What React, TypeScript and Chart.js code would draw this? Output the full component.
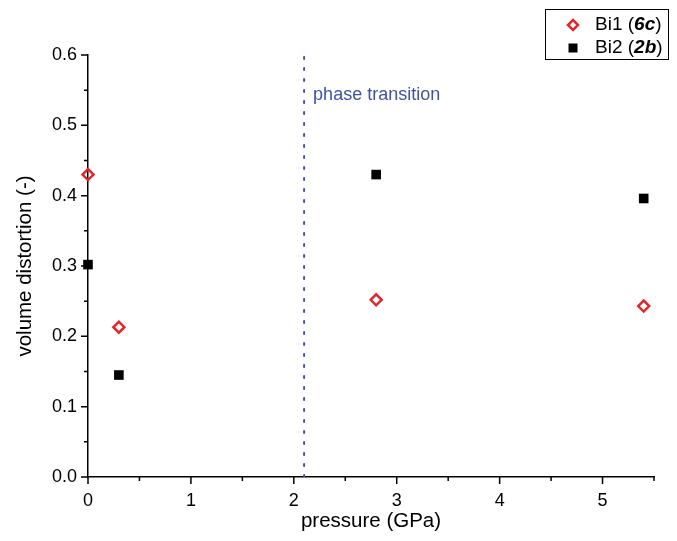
import { useEffect, useRef } from 'react';
import { Chart, registerables } from 'chart.js';

Chart.register(...registerables);

// Measured volume distortion of the two Bi sites against pressure
const pressureGPa = [0, 0.3, 2.8, 5.4];
const bi1Distortion = [0.43, 0.213, 0.252, 0.243];
const bi2Distortion = [0.302, 0.145, 0.43, 0.396];

// Axis ranges and tick positions
const xRange = [0, 5.5];
const yRange = [0, 0.6];
const xMajorTicks = [0, 1, 2, 3, 4, 5];
const xMinorTicks = [0.5, 1.5, 2.5, 3.5, 4.5, 5.5];
const yMajorTicks = [0, 0.1, 0.2, 0.3, 0.4, 0.5, 0.6];
const yMinorTicks = [0.05, 0.15, 0.25, 0.35, 0.45, 0.55];

// Pressure of the phase transition
const phaseTransitionP = 2.1;
const phaseLabel = 'phase transition';

const FONT = '"Liberation Sans", Arial, Helvetica, sans-serif';
const RED = '#e3262b';
const BLUE = '#4053a3';

const decorations = {
  id: 'decorations',
  afterDatasetsDraw(chart: any) {
    const { ctx, chartArea, scales } = chart;
    const x = scales.x;
    const y = scales.y;
    ctx.save();

    // outward tick marks on both axes
    ctx.strokeStyle = '#000';
    ctx.lineWidth = 1.5;
    ctx.beginPath();
    const xTick = (v: number, len: number) => {
      const px = x.getPixelForValue(v);
      ctx.moveTo(px, chartArea.bottom);
      ctx.lineTo(px, chartArea.bottom + len);
    };
    const yTick = (v: number, len: number) => {
      const py = y.getPixelForValue(v);
      ctx.moveTo(chartArea.left, py);
      ctx.lineTo(chartArea.left - len, py);
    };
    xMajorTicks.forEach((v) => xTick(v, 7));
    xMinorTicks.forEach((v) => xTick(v, 4));
    yMajorTicks.forEach((v) => yTick(v, 7));
    yMinorTicks.forEach((v) => yTick(v, 4));
    ctx.stroke();

    // phase transition label
    ctx.fillStyle = BLUE;
    ctx.font = `18px ${FONT}`;
    ctx.textBaseline = 'middle';
    ctx.textAlign = 'left';
    ctx.fillText(phaseLabel, x.getPixelForValue(phaseTransitionP) + 9, chartArea.top + 40);

    // legend box
    const bx = 545;
    const by = 9;
    const bw = 123;
    const bh = 50;
    ctx.strokeStyle = '#000';
    ctx.lineWidth = 1;
    ctx.strokeRect(bx + 0.5, by + 0.5, bw, bh);

    const row1 = by + 16;
    const row2 = by + 39;
    const mx = bx + 28;

    // hollow diamond
    ctx.strokeStyle = RED;
    ctx.lineWidth = 2.5;
    ctx.beginPath();
    ctx.moveTo(mx, row1 - 5);
    ctx.lineTo(mx + 5, row1);
    ctx.lineTo(mx, row1 + 5);
    ctx.lineTo(mx - 5, row1);
    ctx.closePath();
    ctx.stroke();

    // filled square
    ctx.fillStyle = '#000';
    ctx.fillRect(mx - 4.5, row2 - 4.5, 9, 9);

    const drawEntry = (name: string, site: string, ty: number) => {
      let tx = bx + 50;
      ctx.fillStyle = '#000';
      ctx.font = `19px ${FONT}`;
      const pre = `${name} (`;
      ctx.fillText(pre, tx, ty);
      tx += ctx.measureText(pre).width;
      ctx.font = `italic bold 19px ${FONT}`;
      ctx.fillText(site, tx, ty);
      tx += ctx.measureText(site).width;
      ctx.font = `19px ${FONT}`;
      ctx.fillText(')', tx, ty);
    };
    drawEntry('Bi1', '6c', row1);
    drawEntry('Bi2', '2b', row2);

    ctx.restore();
  },
};

export default function App() {
  const canvasRef = useRef<HTMLCanvasElement | null>(null);

  useEffect(() => {
    const canvas = canvasRef.current;
    if (!canvas) return;

    const chart = new Chart(canvas, {
      type: 'scatter',
      data: {
        datasets: [
          {
            label: 'phase transition',
            type: 'line',
            data: [
              { x: phaseTransitionP, y: yRange[0] },
              { x: phaseTransitionP, y: yRange[1] },
            ],
            borderColor: BLUE,
            borderWidth: 2,
            borderDash: [2, 9],
            borderCapStyle: 'round',
            pointRadius: 0,
            fill: false,
            order: 3,
          },
          {
            label: 'Bi1 (6c)',
            data: pressureGPa.map((p, i) => ({ x: p, y: bi1Distortion[i] })),
            pointStyle: 'rectRot',
            pointRadius: 5.5,
            pointBorderWidth: 2.5,
            pointBorderColor: RED,
            pointBackgroundColor: 'rgba(255,255,255,0)',
            borderColor: RED,
            backgroundColor: 'rgba(255,255,255,0)',
            clip: false,
            order: 2,
          },
          {
            label: 'Bi2 (2b)',
            data: pressureGPa.map((p, i) => ({ x: p, y: bi2Distortion[i] })),
            pointStyle: 'rect',
            pointRadius: 6.8,
            pointBorderWidth: 0,
            pointBackgroundColor: '#000',
            backgroundColor: '#000',
            borderColor: '#000',
            clip: false,
            order: 1,
          },
        ],
      },
      options: {
        responsive: false,
        animation: false,
        devicePixelRatio: 1,
        layout: { padding: { left: 0, top: 55, right: 23, bottom: 0 } },
        plugins: {
          legend: { display: false },
          tooltip: { enabled: false },
        },
        scales: {
          x: {
            type: 'linear',
            min: xRange[0],
            max: xRange[1],
            afterBuildTicks: (scale: any) => {
              scale.ticks = xMajorTicks.map((v) => ({ value: v }));
            },
            afterFit: (scale: any) => {
              scale.height = 64;
            },
            grid: { display: false, drawTicks: false },
            border: { display: true, color: '#000', width: 1.5 },
            ticks: {
              color: '#000',
              padding: 13,
              font: { family: FONT, size: 18 },
              maxRotation: 0,
              autoSkip: false,
              callback: (v: any) => String(v),
            },
            title: {
              display: true,
              text: 'pressure (GPa)',
              color: '#000',
              font: { family: FONT, size: 20.5 },
              padding: { top: 0, bottom: 7 },
            },
          },
          y: {
            type: 'linear',
            min: yRange[0],
            max: yRange[1],
            afterBuildTicks: (scale: any) => {
              scale.ticks = yMajorTicks.map((v) => ({ value: v }));
            },
            afterFit: (scale: any) => {
              scale.width = 88;
            },
            grid: { display: false, drawTicks: false },
            border: { display: true, color: '#000', width: 1.5 },
            ticks: {
              color: '#000',
              padding: 11,
              font: { family: FONT, size: 18 },
              autoSkip: false,
              callback: (v: any) => Number(v).toFixed(1),
            },
            title: {
              display: true,
              text: 'volume distortion (-)',
              color: '#000',
              font: { family: FONT, size: 20.5 },
              padding: { top: 13, bottom: 0 },
            },
          },
        },
      },
      plugins: [decorations],
    } as any);

    return () => chart.destroy();
  }, []);

  return (
    <div style={{ position: 'fixed', left: 0, top: 0, width: 677, height: 541, background: '#fff' }}>
      <canvas ref={canvasRef} width={677} height={541} style={{ display: 'block', width: 677, height: 541 }} />
    </div>
  );
}
